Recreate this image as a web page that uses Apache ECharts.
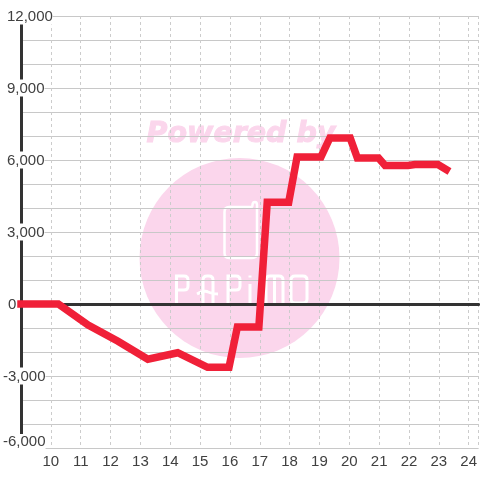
<!DOCTYPE html>
<html><head><meta charset="utf-8">
<style>html,body{margin:0;padding:0;background:#fff}#c{width:480px;height:480px}</style>
<script src="https://cdn.jsdelivr.net/npm/echarts@6/dist/echarts.min.js"></script>
</head><body><div id="c"></div>
<script>
const hours=[9,10.25,11.25,12.25,13.25,14.25,15.25,15.97,16.25,16.97,17.25,17.97,18.25,19.05,19.35,20.03,20.27,20.98,21.2,21.97,22.2,22.97,23.25];
const values=[0,0,-880,-1550,-2300,-2030,-2640,-2640,-960,-960,4240,4240,6130,6130,6920,6920,6080,6080,5770,5770,5810,5810,5600];
const yTicks=[12000,9000,6000,3000,0,-3000,-6000];
const xTicks=[10,11,12,13,14,15,16,17,18,19,20,21,22,23,24];
const fmt=v=>{const a=Math.abs(v).toString().replace(/\B(?=(\d{3})+$)/g,',');return v<0?'-'+a:a;};
const pink='#fbd6ec';
const phone='M229 207 L251 207 Q252.5 207 252.5 205 Q252.5 202 255 202 Q257 202 257 205 L257 253 Q257 258 252 258 L229 258 Q224.5 258 224.5 253 L224.5 212 Q224.5 207 229 207 Z';
const logo='M176.5 303 L176.5 276 L184 276 Q188 276 188 280 L188 286 Q188 290 184 290 L176.5 290 '
 +'M203 303 L203 280 Q203 276 207 276 L209 276 Q213 276 213 280 L213 303 M197 294 Q205 290 208 292 Q212 294 218 294 '
 +'M228 303 L228 276 L236 276 Q240 276 240 280 L240 286 Q240 290 236 290 L228 290 '
 +'M250 303 L250 284 M250 275.5 L250 277.5 '
 +'M266 303 L266 280 Q266 276 270 276 L279 276 Q283 276 283 280 L283 303 M274.5 276 L274.5 303 '
 +'M291 280 Q291 276 295 276 L303 276 Q307 276 307 280 L307 299 Q307 303 303 303 L295 303 Q291 303 291 299 Z';
echarts.graphic.registerShape('wmPhone',echarts.graphic.extendPath(phone,{}));
echarts.graphic.registerShape('wmLogo',echarts.graphic.extendPath(logo,{}));
const ch=echarts.init(document.getElementById('c'),null,{renderer:'canvas'});
const lab={color:'#404040',fontSize:15,fontFamily:'"Liberation Sans"',backgroundColor:'#fff'};
ch.setOption({
 animation:false,backgroundColor:'#fff',
 grid:{left:20,right:0,top:16,bottom:32},
 graphic:[
  {type:'circle',z:-10,shape:{cx:239.5,cy:258,r:100},style:{fill:pink}},
  {type:'text',z:-10,style:{x:241,y:135,text:'Powered by',align:'center',verticalAlign:'middle',fill:pink,stroke:pink,lineWidth:1,font:'italic bold 28.5px "DejaVu Sans"'}},
  {type:'wmPhone',z:-9,style:{fill:'none',stroke:'#fff',lineWidth:2.5}},
  {type:'wmLogo',z:-9,style:{fill:'none',stroke:'#fff',lineWidth:3}}
 ],
 xAxis:[{type:'value',min:9,max:24+1/3,interval:1,position:'bottom',
   axisLine:{show:false,onZero:false},axisTick:{show:false},
   axisLabel:{margin:6,color:'#404040',fontSize:15,fontFamily:'"Liberation Sans"',showMinLabel:false,showMaxLabel:false,
     formatter:v=>xTicks.includes(v)?String(v):''},
   splitLine:{show:true,lineStyle:{color:'#cccccc',type:[3,3],width:1}}},
  {type:'value',min:9,max:24+1/3,interval:1,position:'bottom',
   axisLine:{show:true,onZero:true,lineStyle:{color:'#333',width:3}},axisTick:{show:false},axisLabel:{show:false},splitLine:{show:false}}],
 yAxis:{type:'value',min:-6000,max:12000,interval:1000,
   axisLine:{show:true,onZero:false,lineStyle:{color:'#333',width:3}},axisTick:{show:false},
   splitLine:{show:true,lineStyle:{color:'#c8c8c8',width:1}},
   axisLabel:{margin:18,align:'left',showMinLabel:true,showMaxLabel:true,
     formatter:v=>yTicks.includes(v)?(v===-6000?'{b|'+fmt(v)+'}':v<0?'{n|'+fmt(v)+'}':v===0?'{z|0}':'{p|'+fmt(v)+'}'):'',
     rich:{b:{...lab,padding:[0,0,13,0]},
           n:{...lab,padding:[2,0,0,0]},
           p:{...lab,padding:[2,0,0,4]},
           z:{...lab,backgroundColor:'transparent',padding:[2,0,0,5]}}}},
 series:[{type:'line',xAxisIndex:0,data:hours.map((h,i)=>[h,values[i]]),showSymbol:false,clip:false,smooth:false,
   lineStyle:{color:'#f02038',width:7.5,join:'miter',cap:'square'}}]
});
</script></body></html>
